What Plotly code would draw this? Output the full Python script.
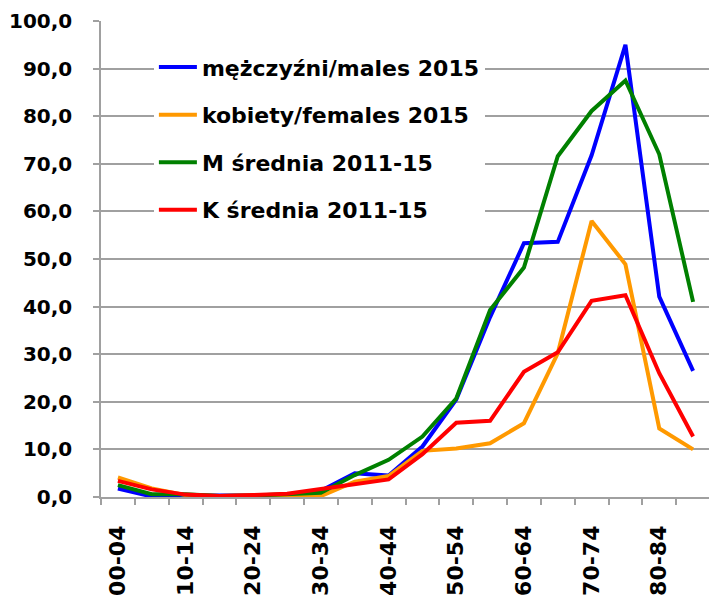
import plotly.graph_objects as go

# Age groups (5-year bands)
age_groups = ["00-04", "05-09", "10-14", "15-19", "20-24", "25-29", "30-34",
              "35-39", "40-44", "45-49", "50-54", "55-59", "60-64", "65-69",
              "70-74", "75-79", "80-84", "85+"]

males_2015 = [1.8, 0.1, 0.3, 0.2, 0.3, 0.4, 1.3, 5.0, 4.5, 10.6, 20.5, 37.8,
              53.3, 53.6, 71.8, 95.0, 42.1, 26.5]
females_2015 = [4.1, 1.8, 0.4, 0.2, 0.3, 0.4, 0.2, 3.2, 4.4, 9.7, 10.2, 11.3,
                15.5, 30.2, 58.0, 48.9, 14.4, 10.0]
males_avg = [2.5, 0.6, 0.6, 0.2, 0.3, 0.5, 0.9, 4.6, 7.8, 12.7, 20.7, 39.3,
             48.2, 71.6, 81.1, 87.5, 72.0, 41.0]
females_avg = [3.4, 1.6, 0.5, 0.2, 0.4, 0.7, 1.7, 2.6, 3.7, 9.0, 15.6, 16.0,
               26.3, 30.4, 41.2, 42.4, 26.0, 12.7]

series = [
    ("mężczyźni/males 2015", males_2015, "#0000FF"),
    ("kobiety/females 2015", females_2015, "#FF9900"),
    ("M średnia 2011-15", males_avg, "#008000"),
    ("K średnia 2011-15", females_avg, "#FF0000"),
]

# Only every second age group gets a visible label
tick_text = [g if i % 2 == 0 else "" for i, g in enumerate(age_groups)]

FONT = "DejaVu Sans"
GRID = "#a0a0a0"

fig = go.Figure()
for i, (name, vals, color) in enumerate(series):
    fig.add_trace(go.Scatter(
        x=age_groups, y=vals, name=name, mode="lines",
        line=dict(color=color, width=4),
        legendgroup=f"g{i}",
    ))

fig.update_layout(
    width=709, height=599,
    margin=dict(l=101, r=0, t=21, b=102),
    paper_bgcolor="white", plot_bgcolor="white",
    separators=", ",
    font=dict(family=FONT, size=18, color="black", weight="bold"),
    showlegend=True,
    legend=dict(
        x=0.087, y=0.947, xanchor="left", yanchor="top",
        bgcolor="white", borderwidth=0,
        traceorder="grouped", tracegroupgap=16,
        font=dict(family=FONT, size=22, color="black", weight="bold"),
        itemwidth=38,
    ),
)

fig.update_xaxes(
    type="category",
    range=[-0.5, 17.47],
    tickmode="array", tickvals=age_groups, ticktext=tick_text,
    tickson="boundaries", ticks="outside", ticklen=6, tickwidth=1.5,
    tickcolor=GRID,
    tickangle=-90, ticklabelstandoff=18,
    showline=True, linecolor=GRID, linewidth=1.5,
    showgrid=False, zeroline=False,
    tickfont=dict(family=FONT, size=22, color="black", weight="bold"),
)

fig.update_yaxes(
    range=[0, 100], dtick=10, tick0=0,
    tickformat=".1f",
    ticks="outside", ticklen=6, tickwidth=1.5, tickcolor=GRID,
    ticklabelstandoff=17,
    showline=True, linecolor=GRID, linewidth=1.5,
    showgrid=True, gridcolor=GRID, gridwidth=1.5,
    zeroline=False,
    tickfont=dict(family=FONT, size=20, color="black", weight="bold"),
)

fig.write_html("out.html")
